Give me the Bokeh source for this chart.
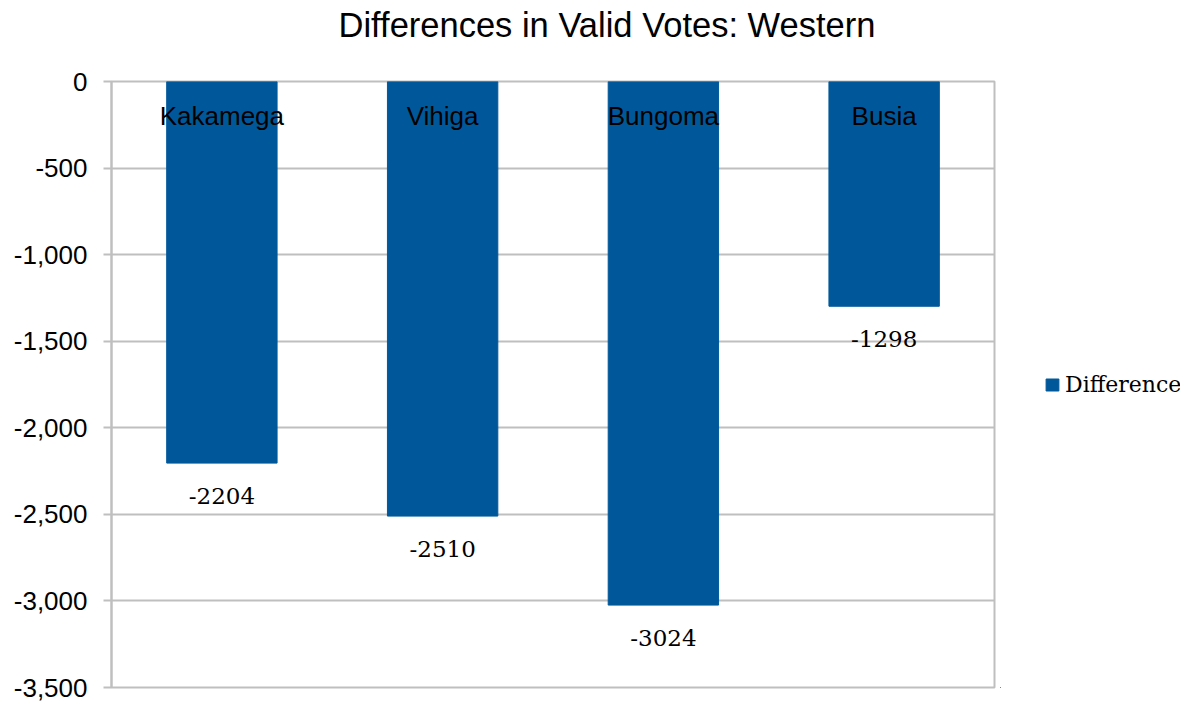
from bokeh.plotting import figure
from bokeh.models import ColumnDataSource, NumeralTickFormatter, Legend, LegendItem, FixedTicker, Range1d, Title
from bokeh.layouts import row
from bokeh.core.properties import value
from bokeh.embed import file_html
from bokeh.resources import INLINE

counties = ["Kakamega", "Vihiga", "Bungoma", "Busia"]
differences = [-2204, -2510, -3024, -1298]
series_name = "Difference"
title_text = "Differences in Valid Votes: Western"
y_ticks = [0, -500, -1000, -1500, -2000, -2500, -3000, -3500]

BAR = "#00589A"
GRID = "#BFBFBF"
H = 704

src = ColumnDataSource(dict(
    county=counties,
    diff=differences,
    top=[0] * len(counties),
    lbl=[str(v) for v in differences],
))

p = figure(width=1000, height=H, x_range=counties, y_range=Range1d(-3500, 0),
           output_backend="svg", toolbar_location=None, title=None,
           min_border_left=111, min_border_top=81, min_border_right=6,
           min_border_bottom=H - 687)

# spacer (closest to the frame), then the real title above it
p.add_layout(Title(text=" ", text_font_size="10px", standoff=23), "above")
p.add_layout(Title(text=title_text, align="left", vertical_align="top",
                   text_font="Liberation Sans", text_font_size="34.5px",
                   text_font_style="normal", text_color="#000000",
                   offset=227, standoff=0), "above")

r = p.vbar(x="county", top="top", bottom="diff", width=0.5, source=src,
           fill_color=BAR, line_color=BAR)

# category labels inside top of bars
p.text(x="county", y="top", text="county", source=src, y_offset=34,
       text_align="center", text_baseline="middle",
       text_font=value("Liberation Sans"), text_font_size="26px", text_color="#000000")

# data labels below bar ends
p.text(x="county", y="diff", text="lbl", source=src, y_offset=33,
       text_align="center", text_baseline="middle",
       text_font=value("DejaVu Serif"), text_font_size="23px", text_color="#000000")

p.xaxis.visible = False
p.xgrid.visible = False
p.ygrid.grid_line_color = GRID
p.ygrid.grid_line_width = 2
p.ygrid.ticker = FixedTicker(ticks=y_ticks)

ya = p.yaxis[0]
ya.ticker = FixedTicker(ticks=y_ticks)
ya.formatter = NumeralTickFormatter(format="0,0")
ya.axis_line_color = GRID
ya.axis_line_width = 2
ya.major_tick_line_color = GRID
ya.major_tick_line_width = 2
ya.major_tick_out = 8
ya.major_tick_in = 0
ya.minor_tick_line_color = None
ya.major_label_text_font = "Liberation Sans"
ya.major_label_text_font_size = "26px"
ya.major_label_text_color = "#000000"
ya.major_label_standoff = 16

p.outline_line_color = GRID
p.outline_line_width = 2

# legend panel (separate figure to the right of the plot area)
lp = figure(width=180, height=H, x_range=Range1d(0, 1), y_range=Range1d(0, 1),
            output_backend="svg", toolbar_location=None,
            min_border_left=0, min_border_right=0, min_border_top=0, min_border_bottom=0)
lp.axis.visible = False
lp.grid.visible = False
lp.outline_line_color = None
# same series, drawn outside this panel's ranges: only its legend swatch shows
lr = lp.vbar(x="diff", top="top", bottom="diff", width=0.5, source=src,
             fill_color=BAR, line_color=BAR)

legend = Legend(items=[LegendItem(label=series_name, renderers=[lr])],
                location=(44, H - 414), border_line_color=None, background_fill_alpha=0,
                padding=0, margin=0, glyph_width=16, glyph_height=15, label_height=15,
                label_standoff=5,
                label_text_font="DejaVu Serif", label_text_font_size="22px",
                label_text_color="#000000")
lp.add_layout(legend, "center")

layout = row(p, lp, spacing=0)
open("out.html", "w").write(file_html(layout, INLINE))
